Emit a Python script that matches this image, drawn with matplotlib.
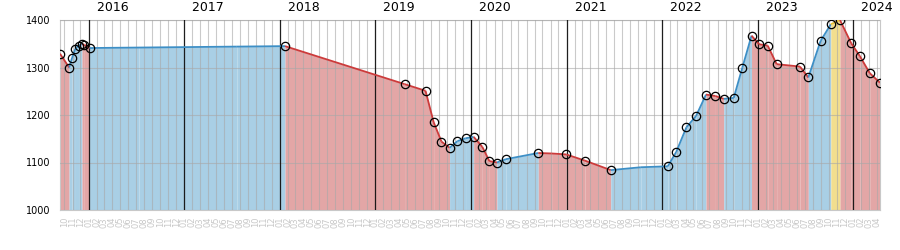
import numpy as np
import pandas as pd
import matplotlib
matplotlib.use('Agg')
import matplotlib.pyplot as plt
import matplotlib.dates as mdates
import matplotlib.transforms as mtransforms

# readings (all line vertices)
dates = ['2015-09-14', '2015-10-19', '2015-10-30', '2015-11-12', '2015-11-24',
         '2015-12-07', '2015-12-16', '2016-01-05', '2016-07-12', '2017-07-21',
         '2018-01-21', '2019-04-23', '2019-07-12', '2019-08-12', '2019-09-11',
         '2019-10-12', '2019-11-11', '2019-12-12', '2020-01-12', '2020-02-14',
         '2020-03-12', '2020-04-10', '2020-05-14', '2020-09-15', '2020-11-05',
         '2020-12-31', '2021-03-12', '2021-06-19', '2021-10-12', '2022-01-23',
         '2022-02-24', '2022-04-04', '2022-05-11', '2022-06-18', '2022-07-24',
         '2022-08-25', '2022-10-02', '2022-11-04', '2022-12-09', '2023-01-07',
         '2023-02-09', '2023-03-15', '2023-06-12', '2023-07-14', '2023-08-30',
         '2023-10-08', '2023-11-12', '2023-12-25', '2024-01-27', '2024-03-05',
         '2024-04-13']
values = [1329, 1300, 1320, 1340, 1346,
          1349, 1348, 1341, 1342, 1344,
          1345, 1265, 1251, 1185, 1144,
          1131, 1145, 1151, 1154, 1133,
          1103, 1100, 1107, 1120, 1119,
          1117, 1104, 1084, 1090, 1092,
          1122, 1174, 1198, 1243, 1240,
          1234, 1236, 1300, 1367, 1349,
          1346, 1307, 1302, 1279, 1356,
          1391, 1400, 1351, 1324, 1288,
          1268]
# readings without a circle
unmarked = ['2016-07-12', '2017-07-21', '2020-11-05', '2021-10-12']

df = pd.DataFrame({'date': pd.to_datetime(dates), 'value': values})
df['marked'] = ~df['date'].isin(pd.to_datetime(unmarked))

RED_LINE, RED_FILL = '#cc3b3b', '#e3a6a6'
BLUE_LINE, BLUE_FILL = '#3d8fc6', '#a9cfe5'
YEL_LINE, YEL_FILL = '#e8c23a', '#f2de8e'

fig = plt.figure(figsize=(9, 2.5), dpi=100)
ax = fig.add_axes([60 / 900, 40 / 250, 820 / 900, 190 / 250])

vmax = df['value'].max()
for i in range(len(df) - 1):
    x = df['date'].iloc[i:i + 2]
    y = df['value'].iloc[i:i + 2].values
    if y[1] == vmax:
        lc, fc = YEL_LINE, YEL_FILL
    elif y[1] > y[0]:
        lc, fc = BLUE_LINE, BLUE_FILL
    else:
        lc, fc = RED_LINE, RED_FILL
    ax.fill_between(x, y, 1000, color=fc, lw=0, zorder=1)
    ax.plot(x, y, color=lc, lw=1.3, zorder=3, solid_capstyle='butt')

m = df[df['marked']]
ax.plot(m['date'], m['value'], 'o', ms=6, mfc='none', mec='black', mew=0.9, zorder=4)

ax.set_xlim(df['date'].iloc[0], df['date'].iloc[-1])
ax.set_ylim(1000, 1400)
ax.set_yticks([1000, 1100, 1200, 1300, 1400])

ax.xaxis.set_major_locator(mdates.MonthLocator())
ax.xaxis.set_major_formatter(mdates.DateFormatter('%m'))
ax.tick_params(axis='x', length=0, labelsize=6, labelcolor='#c8c8c8',
               labelrotation=90, pad=5)
ax.tick_params(axis='y', length=0, labelsize=7, pad=7)

ax.grid(True, color='#a8a8a8', alpha=0.6, lw=0.8)
ax.set_axisbelow(False)
for s in ax.spines.values():
    s.set_color('#c8c8c8')

trans = mtransforms.blended_transform_factory(ax.transData, ax.transAxes)
for yr in range(2016, 2025):
    d = pd.Timestamp(f'{yr}-01-01')
    ax.axvline(d, color='black', lw=0.9, alpha=0.85, zorder=2.6)
    ax.text(d, 1.03, f'  {yr}', transform=trans, fontsize=9, ha='left', va='bottom')

fig.savefig('out.png', dpi=100)
